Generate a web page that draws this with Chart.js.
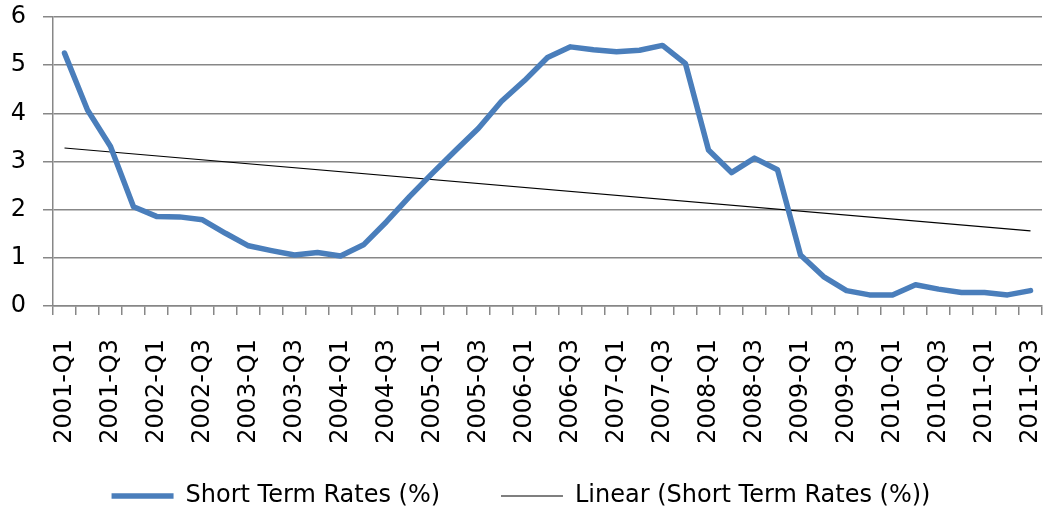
<!DOCTYPE html>
<html>
<head>
<meta charset="utf-8">
<title>Short Term Rates</title>
<script src="https://cdn.jsdelivr.net/npm/chart.js@4/dist/chart.umd.min.js"></script>
<style>
  html, body { margin: 0; padding: 0; background: #fff; }
  #wrap { width: 1045px; height: 518px; }
</style>
</head>
<body>
<div id="wrap"><canvas id="rates" width="1045" height="518"></canvas></div>
<script>
const quarters = [
  '2001-Q1', '2001-Q2', '2001-Q3', '2001-Q4',
  '2002-Q1', '2002-Q2', '2002-Q3', '2002-Q4',
  '2003-Q1', '2003-Q2', '2003-Q3', '2003-Q4',
  '2004-Q1', '2004-Q2', '2004-Q3', '2004-Q4',
  '2005-Q1', '2005-Q2', '2005-Q3', '2005-Q4',
  '2006-Q1', '2006-Q2', '2006-Q3', '2006-Q4',
  '2007-Q1', '2007-Q2', '2007-Q3', '2007-Q4',
  '2008-Q1', '2008-Q2', '2008-Q3', '2008-Q4',
  '2009-Q1', '2009-Q2', '2009-Q3', '2009-Q4',
  '2010-Q1', '2010-Q2', '2010-Q3', '2010-Q4',
  '2011-Q1', '2011-Q2', '2011-Q3'
];

// short term rates (%), one per quarter
const shortRates = [
  5.25, 4.07, 3.31, 2.06, 1.86, 1.85, 1.79, 1.51, 1.25, 1.15, 1.06,
  1.11, 1.04, 1.27, 1.75, 2.27, 2.76, 3.23, 3.69, 4.25, 4.68, 5.16,
  5.38, 5.32, 5.28, 5.31, 5.41, 5.03, 3.24, 2.77, 3.07, 2.83, 1.06,
  0.61, 0.32, 0.23, 0.23, 0.44, 0.35, 0.28, 0.28, 0.23, 0.32
];

// linear trend line: value at first and last quarter
const trendQuarters = ['2001-Q1', '2011-Q3'];
const trendValues = [3.28, 1.56];

const yTicks = [0, 1, 2, 3, 4, 5, 6];

const FONT = 'DejaVu Sans';
const GRID = '#878787';

// legend entries, first one gets a bit of trailing room to widen the gap
function legendLabels(chart) {
  const items = Chart.defaults.plugins.legend.labels.generateLabels(chart);
  return items.map((item, i) => (i === 0 ? { ...item, text: item.text + '   ' } : item));
}

const ctx = document.getElementById('rates');
const chart = new Chart(ctx, {
  type: 'line',
  data: {
    labels: quarters,
    datasets: [
      {
        label: 'Short Term Rates (%)',
        data: shortRates,
        borderColor: '#4a7ebb',
        backgroundColor: '#4a7ebb',
        borderWidth: 5.5,
        borderJoinStyle: 'round',
        borderCapStyle: 'round',
        pointRadius: 0,
        tension: 0
      },
      {
        label: 'Linear (Short Term Rates (%))',
        data: trendQuarters.map((q, i) => ({ x: q, y: trendValues[i] })),
        borderColor: '#000000',
        backgroundColor: '#000000',
        borderWidth: 1.2,
        pointRadius: 0,
        tension: 0
      }
    ]
  },
  options: {
    responsive: false,
    animation: false,
    devicePixelRatio: 1,
    layout: {
      padding: { top: 17, right: 3, bottom: 0, left: 0 }
    },
    plugins: {
      tooltip: { enabled: false },
      legend: {
        position: 'bottom',
        labels: {
          font: { family: FONT, size: 24 },
          color: '#000',
          usePointStyle: true,
          pointStyle: 'line',
          pointStyleWidth: 62,
          padding: 38,
          generateLabels: legendLabels
        }
      }
    },
    scales: {
      x: {
        offset: true,
        border: { color: GRID, width: 1.5 },
        grid: {
          offset: true,
          drawOnChartArea: false,
          drawTicks: true,
          tickLength: 9,
          color: GRID,
          lineWidth: 1.5
        },
        ticks: {
          autoSkip: false,
          maxRotation: 90,
          minRotation: 90,
          padding: 24,
          color: '#000',
          font: { family: FONT, size: 24 },
          callback: (value, index) => (index % 2 === 0 ? quarters[index] : '')
        },
        afterFit: (axis) => {
          axis.height = 140;
          axis.paddingLeft = 0;
          axis.paddingRight = 0;
        }
      },
      y: {
        min: 0,
        max: 6,
        afterBuildTicks: (axis) => { axis.ticks = yTicks.map((v) => ({ value: v })); },
        border: { color: GRID, width: 1.5 },
        grid: {
          color: GRID,
          lineWidth: 1.5,
          tickLength: 10
        },
        ticks: {
          padding: 17,
          color: '#000',
          font: { family: FONT, size: 24 }
        },
        afterFit: (axis) => {
          axis.width = 53;
          axis.paddingTop = 0;
          axis.paddingBottom = 0;
        }
      }
    }
  }
});
</script>
</body>
</html>
